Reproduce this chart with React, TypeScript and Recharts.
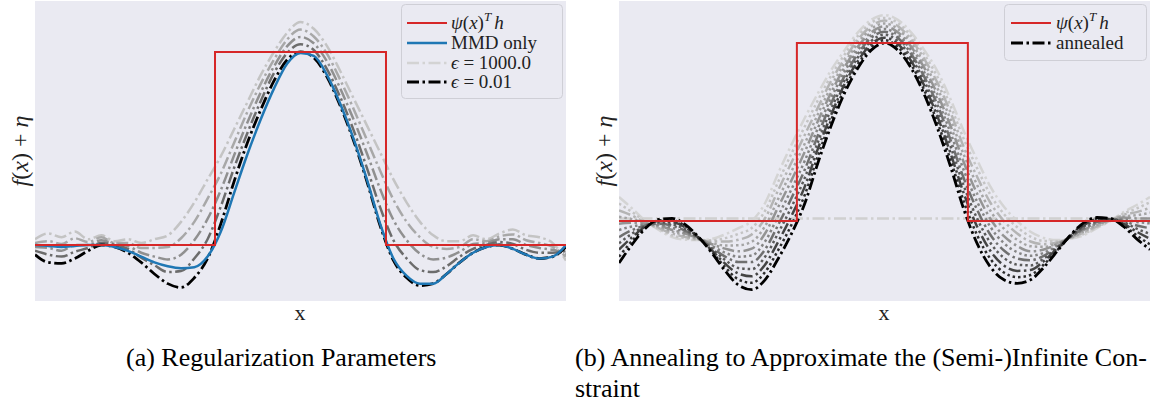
import React from "react";
import { LineChart, Line, XAxis, YAxis } from "recharts";

// x grid (normalized x from 0 to 1)
const xGrid = [
  0, 0.025, 0.05, 0.075, 0.1, 0.125, 0.15, 0.175, 0.2, 0.225, 0.25, 0.275, 0.3, 0.325, 0.35, 0.375, 0.4, 0.425, 0.45, 0.475,
  0.5, 0.525, 0.55, 0.575, 0.6, 0.625, 0.65, 0.675, 0.7, 0.725, 0.75, 0.775, 0.8, 0.825, 0.85, 0.875, 0.9, 0.925, 0.95, 0.975, 1,
];

// ---- Panel (a): Regularization Parameters ----
const leftStepX = [0, 0.339, 0.339, 0.661, 0.661, 1];
const leftStepY = [0, 0, 1, 1, 0, 0];
const leftMMD = [0, -0.005, -0.01, -0.005, 0, 0, -0.01, -0.03, -0.06, -0.09, -0.11, -0.12, -0.115, -0.06, 0.07, 0.27, 0.47, 0.65, 0.81, 0.94, 0.995, 0.98, 0.88, 0.73, 0.55, 0.34, 0.11, -0.07, -0.16, -0.2, -0.2, -0.15, -0.09, -0.04, -0.01, 0, -0.02, -0.05, -0.07, -0.06, 0];
const leftEps001 = [-0.05, -0.09, -0.095, -0.07, -0.03, 0, -0.01, -0.04, -0.09, -0.15, -0.2, -0.22, -0.17, -0.07, 0.11, 0.33, 0.53, 0.7, 0.85, 0.96, 1.0, 0.97, 0.87, 0.72, 0.54, 0.33, 0.1, -0.08, -0.17, -0.21, -0.2, -0.15, -0.09, -0.04, -0.01, 0, -0.02, -0.05, -0.07, -0.06, -0.01];
const leftEps01 = [-0.03, -0.05, -0.06, -0.035, -0.015, 0.01, 0, -0.02, -0.065, -0.105, -0.14, -0.135, -0.07, 0.03, 0.2, 0.4, 0.58, 0.745, 0.89, 0.995, 1.04, 1.01, 0.91, 0.765, 0.595, 0.4, 0.195, 0.025, -0.07, -0.13, -0.14, -0.11, -0.06, -0.02, 0, 0.015, 0.005, -0.025, -0.04, -0.04, -0.03];
const leftEps10 = [-0.01, -0.015, -0.03, 0, 0, 0.025, 0.005, -0.005, -0.04, -0.06, -0.075, -0.05, 0.025, 0.135, 0.285, 0.465, 0.635, 0.79, 0.925, 1.03, 1.078, 1.045, 0.95, 0.81, 0.65, 0.475, 0.29, 0.13, 0.025, -0.045, -0.075, -0.065, -0.035, 0.005, 0.01, 0.03, 0.03, 0, -0.015, -0.025, -0.045];
const leftEps100 = [0.01, 0.02, 0.005, 0.035, 0.015, 0.04, 0.01, 0.01, -0.015, -0.015, -0.01, 0.035, 0.12, 0.24, 0.37, 0.53, 0.69, 0.835, 0.96, 1.065, 1.116, 1.08, 0.99, 0.855, 0.705, 0.545, 0.385, 0.235, 0.12, 0.04, -0.01, -0.02, -0.01, 0.03, 0.02, 0.045, 0.055, 0.025, 0.01, -0.01, -0.06];
const leftEps1000 = [0.03, 0.06, 0.04, 0.07, 0.03, 0.05, 0.02, 0.03, 0.01, 0.03, 0.05, 0.12, 0.22, 0.34, 0.46, 0.6, 0.74, 0.88, 1.0, 1.1, 1.155, 1.12, 1.03, 0.9, 0.76, 0.62, 0.48, 0.34, 0.22, 0.12, 0.05, 0.02, 0.02, 0.05, 0.03, 0.06, 0.08, 0.05, 0.04, 0.01, -0.08];

// ---- Panel (b): Annealing ----
const rightStepX = [0, 0.335, 0.335, 0.657, 0.657, 1];
const rightStepY = [0, 0, 1, 1, 0, 0];
const rightFlatX = [0, 1];
const rightFlatY = [0.015, 0.015];
const rightAnnealed = [-0.236, -0.13, -0.04, 0.01, 0.015, -0.02, -0.09, -0.18, -0.28, -0.36, -0.385, -0.33, -0.21, -0.07, 0.1, 0.33, 0.54, 0.72, 0.86, 0.96, 1.0, 0.96, 0.86, 0.71, 0.52, 0.3, 0.06, -0.13, -0.26, -0.33, -0.35, -0.33, -0.26, -0.17, -0.08, -0.01, 0.02, 0.015, -0.03, -0.1, -0.16];
const rightIter9 = [-0.2, -0.11, -0.036, 0.004, 0.005, -0.029, -0.092, -0.172, -0.26, -0.328, -0.347, -0.287, -0.162, -0.02, 0.148, 0.369, 0.571, 0.744, 0.88, 0.977, 1.016, 0.977, 0.88, 0.735, 0.552, 0.338, 0.104, -0.083, -0.215, -0.289, -0.315, -0.303, -0.244, -0.164, -0.082, -0.017, 0.014, 0.014, -0.022, -0.081, -0.131];
const rightIter8 = [-0.16, -0.09, -0.03, 0, -0.005, -0.035, -0.095, -0.165, -0.24, -0.295, -0.31, -0.245, -0.115, 0.03, 0.195, 0.41, 0.6, 0.77, 0.9, 0.995, 1.03, 0.995, 0.9, 0.76, 0.585, 0.375, 0.15, -0.035, -0.17, -0.25, -0.28, -0.275, -0.225, -0.155, -0.085, -0.025, 0.01, 0.01, -0.015, -0.06, -0.1];
const rightIter7 = [-0.125, -0.07, -0.028, -0.008, -0.017, -0.046, -0.095, -0.156, -0.219, -0.264, -0.27, -0.201, -0.066, 0.08, 0.244, 0.447, 0.633, 0.792, 0.92, 1.011, 1.047, 1.011, 0.92, 0.785, 0.616, 0.414, 0.192, 0.011, -0.125, -0.207, -0.245, -0.249, -0.21, -0.151, -0.086, -0.031, 0.002, 0.011, -0.006, -0.043, -0.072];
const rightIter6 = [-0.09, -0.05, -0.025, -0.015, -0.025, -0.055, -0.095, -0.15, -0.2, -0.23, -0.23, -0.16, -0.02, 0.13, 0.29, 0.485, 0.665, 0.815, 0.94, 1.03, 1.063, 1.03, 0.94, 0.81, 0.65, 0.45, 0.235, 0.06, -0.08, -0.165, -0.21, -0.22, -0.195, -0.145, -0.09, -0.04, -0.005, 0.01, 0, -0.025, -0.04];
const rightIter5 = [-0.05, -0.03, -0.02, -0.02, -0.038, -0.063, -0.099, -0.14, -0.178, -0.2, -0.193, -0.115, 0.03, 0.18, 0.34, 0.525, 0.695, 0.84, 0.96, 1.045, 1.079, 1.045, 0.96, 0.835, 0.68, 0.49, 0.28, 0.105, -0.035, -0.125, -0.175, -0.195, -0.178, -0.139, -0.09, -0.045, -0.01, 0.008, 0.01, -0.005, -0.013];
const rightIter4 = [-0.015, -0.01, -0.015, -0.025, -0.05, -0.07, -0.1, -0.13, -0.155, -0.17, -0.155, -0.07, 0.08, 0.23, 0.39, 0.565, 0.725, 0.865, 0.98, 1.06, 1.094, 1.06, 0.98, 0.86, 0.71, 0.53, 0.325, 0.15, 0.01, -0.085, -0.14, -0.17, -0.16, -0.13, -0.09, -0.05, -0.015, 0.005, 0.02, 0.015, 0.015];
const rightIter3 = [0.024, 0.01, -0.012, -0.032, -0.059, -0.08, -0.102, -0.124, -0.137, -0.136, -0.116, -0.029, 0.126, 0.28, 0.436, 0.603, 0.757, 0.888, 1.0, 1.079, 1.11, 1.079, 1.0, 0.885, 0.744, 0.566, 0.368, 0.199, 0.055, -0.043, -0.105, -0.141, -0.145, -0.126, -0.094, -0.059, -0.022, 0.005, 0.026, 0.033, 0.047];
const rightIter2 = [0.06, 0.03, -0.01, -0.04, -0.07, -0.09, -0.105, -0.115, -0.115, -0.105, -0.075, 0.015, 0.175, 0.33, 0.485, 0.64, 0.79, 0.91, 1.02, 1.095, 1.126, 1.095, 1.02, 0.91, 0.775, 0.605, 0.41, 0.245, 0.1, 0, -0.07, -0.115, -0.13, -0.12, -0.095, -0.065, -0.03, 0, 0.035, 0.05, 0.075];
const rightIter1 = [0.098, 0.05, -0.004, -0.044, -0.08, -0.097, -0.105, -0.108, -0.096, -0.072, -0.039, 0.057, 0.222, 0.38, 0.532, 0.681, 0.819, 0.936, 1.04, 1.113, 1.141, 1.113, 1.04, 0.935, 0.808, 0.642, 0.456, 0.293, 0.145, 0.039, -0.035, -0.087, -0.112, -0.113, -0.098, -0.073, -0.034, 0.002, 0.042, 0.071, 0.106];
const rightIter0 = [0.135, 0.07, 0, -0.05, -0.09, -0.105, -0.107, -0.1, -0.075, -0.04, 0, 0.1, 0.27, 0.43, 0.58, 0.72, 0.85, 0.96, 1.06, 1.13, 1.157, 1.13, 1.06, 0.96, 0.84, 0.68, 0.5, 0.34, 0.19, 0.08, 0, -0.06, -0.095, -0.107, -0.1, -0.08, -0.04, 0, 0.05, 0.09, 0.135];

const rightIters = [rightIter0, rightIter1, rightIter2, rightIter3, rightIter4, rightIter5, rightIter6, rightIter7, rightIter8, rightIter9];
const rightIterColors = ["#d4d4d4", "#c4c4c4", "#b4b4b4", "#a4a4a4", "#949494", "#848484", "#707070", "#5a5a5a", "#444444", "#2c2c2c"];
const rightIterDash = ["12 3.5 2.5 3.5", "2.5 3", "12 3.5 2.5 3.5", "2.5 3", "12 3.5 2.5 3.5", "2.5 3", "12 3.5 2.5 3.5", "2.5 3", "12 3.5 2.5 3.5", "2.5 3"];

const leftRows = xGrid.map((x, i) => ({
  x,
  mmd: leftMMD[i],
  e001: leftEps001[i],
  e01: leftEps01[i],
  e10: leftEps10[i],
  e100: leftEps100[i],
  e1000: leftEps1000[i],
}));
const leftStep = leftStepX.map((x, i) => ({ x, y: leftStepY[i] }));

const rightRows = xGrid.map((x, i) => {
  const row: Record<string, number> = { x, a: rightAnnealed[i] };
  rightIters.forEach((s, k) => {
    row["it" + k] = s[i];
  });
  return row;
});
const rightStep = rightStepX.map((x, i) => ({ x, y: rightStepY[i] }));
const rightFlat = rightFlatX.map((x, i) => ({ x, y: rightFlatY[i] }));

const RED = "#d62728";
const BLUE = "#1f77b4";
const BG = "#eaeaf2";
const DASHDOT = "12 3.5 2.5 3.5";

const W = 531;
const H = 300;

const mathFont = "'Liberation Serif', serif";
const LEG_FS = 19;

function LeftChart() {
  return (
    <div style={{ position: "absolute", left: 35, top: 1, width: W, height: H, background: BG }}>
      <LineChart width={W} height={H} data={leftRows} margin={{ top: 0, right: 0, bottom: 0, left: 0 }}>
        <XAxis dataKey="x" type="number" domain={[0, 1]} hide />
        <YAxis type="number" domain={[-0.29, 1.264]} allowDataOverflow hide />
        <Line dataKey="e1000" type="monotone" stroke="#c4c4c4" strokeWidth={2.5} strokeDasharray={DASHDOT} dot={false} isAnimationActive={false} />
        <Line dataKey="e100" type="monotone" stroke="#a8a8a8" strokeWidth={2.5} strokeDasharray={DASHDOT} dot={false} isAnimationActive={false} />
        <Line dataKey="e10" type="monotone" stroke="#909090" strokeWidth={2.5} strokeDasharray={DASHDOT} dot={false} isAnimationActive={false} />
        <Line dataKey="e01" type="monotone" stroke="#6c6c6c" strokeWidth={2.5} strokeDasharray={DASHDOT} dot={false} isAnimationActive={false} />
        <Line dataKey="e001" type="monotone" stroke="#000000" strokeWidth={2.8} strokeDasharray={DASHDOT} dot={false} isAnimationActive={false} />
        <Line dataKey="mmd" type="monotone" stroke={BLUE} strokeWidth={2.5} dot={false} isAnimationActive={false} />
        <Line data={leftStep} dataKey="y" type="linear" stroke={RED} strokeWidth={2} dot={false} isAnimationActive={false} />
      </LineChart>
    </div>
  );
}

function RightChart() {
  return (
    <div style={{ position: "absolute", left: 619, top: 1, width: W, height: H, background: BG }}>
      <LineChart width={W} height={H} data={rightRows} margin={{ top: 0, right: 0, bottom: 0, left: 0 }}>
        <XAxis dataKey="x" type="number" domain={[0, 1]} hide />
        <YAxis type="number" domain={[-0.449, 1.236]} allowDataOverflow hide />
        <Line data={rightFlat} dataKey="y" type="linear" stroke="#d0d0d0" strokeWidth={2.5} strokeDasharray={DASHDOT} dot={false} isAnimationActive={false} />
        {rightIters.map((_, k) => (
          <Line
            key={k}
            dataKey={"it" + k}
            type="monotone"
            stroke={rightIterColors[k]}
            strokeWidth={2.5}
            strokeDasharray={rightIterDash[k]}
            dot={false}
            isAnimationActive={false}
          />
        ))}
        <Line dataKey="a" type="monotone" stroke="#000000" strokeWidth={2.8} strokeDasharray={DASHDOT} dot={false} isAnimationActive={false} />
        <Line data={rightStep} dataKey="y" type="linear" stroke={RED} strokeWidth={2} dot={false} isAnimationActive={false} />
      </LineChart>
    </div>
  );
}

function PsiLabel({ x, y }: { x: number; y: number }) {
  return (
    <text x={x} y={y} fontFamily={mathFont} fontSize={LEG_FS} fill="#222">
      <tspan fontStyle="italic">ψ</tspan>
      <tspan>(</tspan>
      <tspan fontStyle="italic">x</tspan>
      <tspan>)</tspan>
      <tspan fontStyle="italic" fontSize={13} dy={-8}>T</tspan>
      <tspan fontStyle="italic" dy={8} dx={3}>h</tspan>
    </text>
  );
}

function Overlay() {
  const txt = "#222";
  return (
    <svg width={1174} height={403} style={{ position: "absolute", left: 0, top: 0, pointerEvents: "none" }}>
      {/* left legend */}
      <rect x={401.5} y={4.5} width={161} height={94} rx={4} fill={BG} fillOpacity={0.85} stroke="#cfcfd6" />
      <line x1={407} x2={447} y1={23} y2={23} stroke={RED} strokeWidth={2} />
      <PsiLabel x={451} y={29} />
      <line x1={407} x2={447} y1={43} y2={43} stroke={BLUE} strokeWidth={2.5} />
      <text x={451} y={49} fontFamily={mathFont} fontSize={LEG_FS} fill={txt}>MMD only</text>
      <line x1={407} x2={447} y1={63} y2={63} stroke="#d3d3d3" strokeWidth={2.5} strokeDasharray={DASHDOT} />
      <text x={451} y={69} fontFamily={mathFont} fontSize={LEG_FS} fill={txt}>
        <tspan fontStyle="italic">ϵ</tspan> = 1000.0
      </text>
      <line x1={407} x2={447} y1={82} y2={82} stroke="#000" strokeWidth={2.8} strokeDasharray={DASHDOT} />
      <text x={451} y={88} fontFamily={mathFont} fontSize={LEG_FS} fill={txt}>
        <tspan fontStyle="italic">ϵ</tspan> = 0.01
      </text>

      {/* right legend */}
      <rect x={1004.5} y={4.5} width={142} height={56} rx={4} fill={BG} fillOpacity={0.85} stroke="#cfcfd6" />
      <line x1={1011} x2={1051} y1={23} y2={23} stroke={RED} strokeWidth={2} />
      <PsiLabel x={1056} y={29} />
      <line x1={1011} x2={1051} y1={43} y2={43} stroke="#000" strokeWidth={2.8} strokeDasharray={DASHDOT} />
      <text x={1056} y={49} fontFamily={mathFont} fontSize={LEG_FS} fill={txt}>annealed</text>

      {/* axis labels */}
      <text x={300} y={320} textAnchor="middle" fontFamily={mathFont} fontSize={22} fill={txt}>x</text>
      <text x={884} y={320} textAnchor="middle" fontFamily={mathFont} fontSize={22} fill={txt}>x</text>
      <text x={28} y={151} textAnchor="middle" transform="rotate(-90, 28, 151)" fontFamily={mathFont} fontSize={24} fill={txt}>
        <tspan fontStyle="italic">f</tspan>(<tspan fontStyle="italic">x</tspan>) + <tspan fontStyle="italic">η</tspan>
      </text>
      <text x={612} y={151} textAnchor="middle" transform="rotate(-90, 612, 151)" fontFamily={mathFont} fontSize={24} fill={txt}>
        <tspan fontStyle="italic">f</tspan>(<tspan fontStyle="italic">x</tspan>) + <tspan fontStyle="italic">η</tspan>
      </text>

      {/* captions */}
      <text x={126} y={366} fontFamily="'Liberation Serif', serif" fontSize={26} fill="#000">(a) Regularization Parameters</text>
      <text x={575} y={366} fontFamily="'Liberation Serif', serif" fontSize={26} fill="#000">(b) Annealing to Approximate the (Semi-)Infinite Con-</text>
      <text x={575} y={397} fontFamily="'Liberation Serif', serif" fontSize={26} fill="#000">straint</text>
    </svg>
  );
}

export default function App() {
  return (
    <div style={{ position: "absolute", left: 0, top: 0, width: 1174, height: 403, background: "#fff", overflow: "hidden" }}>
      <LeftChart />
      <RightChart />
      <Overlay />
    </div>
  );
}
